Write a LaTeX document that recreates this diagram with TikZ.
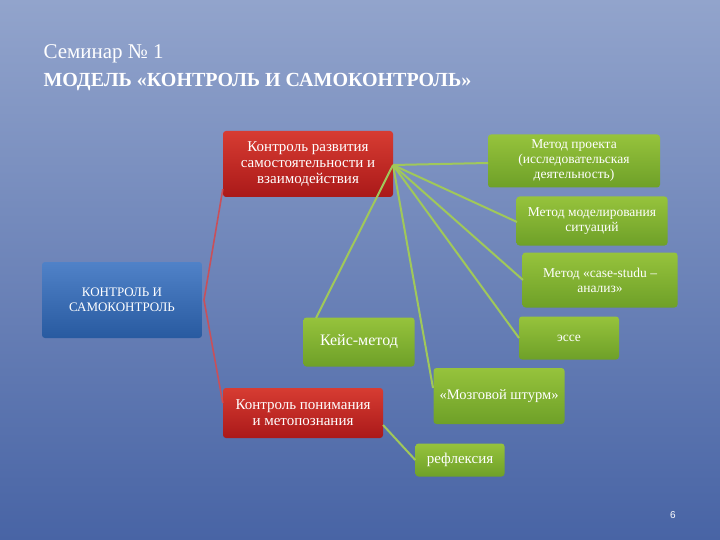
\documentclass[tikz,border=0pt]{standalone}
\usepackage{fontspec}
\usetikzlibrary{calc}
\setmainfont{Liberation Serif}
\newfontfamily\sansf{Liberation Sans}
\begin{document}
\begin{tikzpicture}[x=1pt,y=-1pt,
 box/.style={rounded corners=3pt,align=center,text=white,inner sep=0pt,font=\fontsize{15}{16}\selectfont},
 gline/.style={draw={rgb,255:red,160;green,200;blue,90},line width=2pt},
 rline/.style={draw={rgb,255:red,200;green,80;blue,90},line width=1.6pt}]
\shade[top color={rgb,255:red,146;green,164;blue,204},bottom color={rgb,255:red,72;green,100;blue,165}] (0,0) rectangle (720,540);
\useasboundingbox (0,0) rectangle (720,540);
\node[anchor=west,text=white,font=\fontsize{21}{24}\selectfont] (t1) at (40,54) {Семинар № 1};
\node[anchor=west,text=white,font=\fontsize{20}{24}\selectfont\bfseries] (t2) at (40,82) {МОДЕЛЬ «КОНТРОЛЬ И САМОКОНТРОЛЬ»};
\node[box,minimum width=160pt,minimum height=76pt,top color={rgb,255:red,80;green,130;blue,200},bottom color={rgb,255:red,40;green,90;blue,160},font=\fontsize{13}{15}\selectfont] (b) at (122,300) {КОНТРОЛЬ И\\САМОКОНТРОЛЬ};
\node[box,minimum width=170pt,minimum height=66pt,top color={rgb,255:red,215;green,60;blue,50},bottom color={rgb,255:red,170;green,25;blue,25}] (r1) at (308,164) {Контроль развития\\самостоятельности и\\взаимодействия};
\node[box,minimum width=160pt,minimum height=50pt,top color={rgb,255:red,215;green,60;blue,50},bottom color={rgb,255:red,170;green,25;blue,25}] (r2) at (303,413) {Контроль понимания\\и метопознания};
\tikzset{gf/.style={box,top color={rgb,255:red,150;green,195;blue,60},bottom color={rgb,255:red,110;green,160;blue,40}}}
\node[gf,minimum width=172pt,minimum height=53pt,font=\fontsize{13.5}{15}\selectfont] (g1) at (574,161) {Метод проекта\\(исследовательская\\деятельность)};
\node[gf,minimum width=151pt,minimum height=49pt,font=\fontsize{13.5}{15}\selectfont] (g2) at (592,221) {Метод моделирования\\ситуаций};
\node[gf,minimum width=155pt,minimum height=55pt,font=\fontsize{13.5}{15}\selectfont] (g3) at (600,280) {Метод «case-studu –\\анализ»};
\node[gf,minimum width=100pt,minimum height=43pt,font=\fontsize{13.5}{15}\selectfont] (g4) at (569,338) {эссе};
\node[gf,minimum width=111pt,minimum height=49pt,font=\fontsize{16}{17}\selectfont] (k) at (359,342) {Кейс-метод};
\node[gf,minimum width=131pt,minimum height=56pt,font=\fontsize{14.5}{16}\selectfont] (m) at (499,396) {«Мозговой штурм»};
\node[gf,minimum width=89pt,minimum height=33pt,font=\fontsize{15}{16}\selectfont] (rf) at (460,460) {рефлексия};
\coordinate (h) at (393,165);
\foreach \p in {(488,163),(517,222),(523,280),(519,338),(316,318),(433,388)}
  \draw[gline] (h) -- \p;
\draw[rline] ($(r1.south west)+(0,-8)$) -- (204,300) -- ($(r2.west)+(0,-10)$);
\draw[gline] (383,425) -- (rf.west);
\node[text=white,font=\sansf\fontsize{10}{12}\selectfont] (pn) at (673,515) {6};
\end{tikzpicture}
\end{document}
